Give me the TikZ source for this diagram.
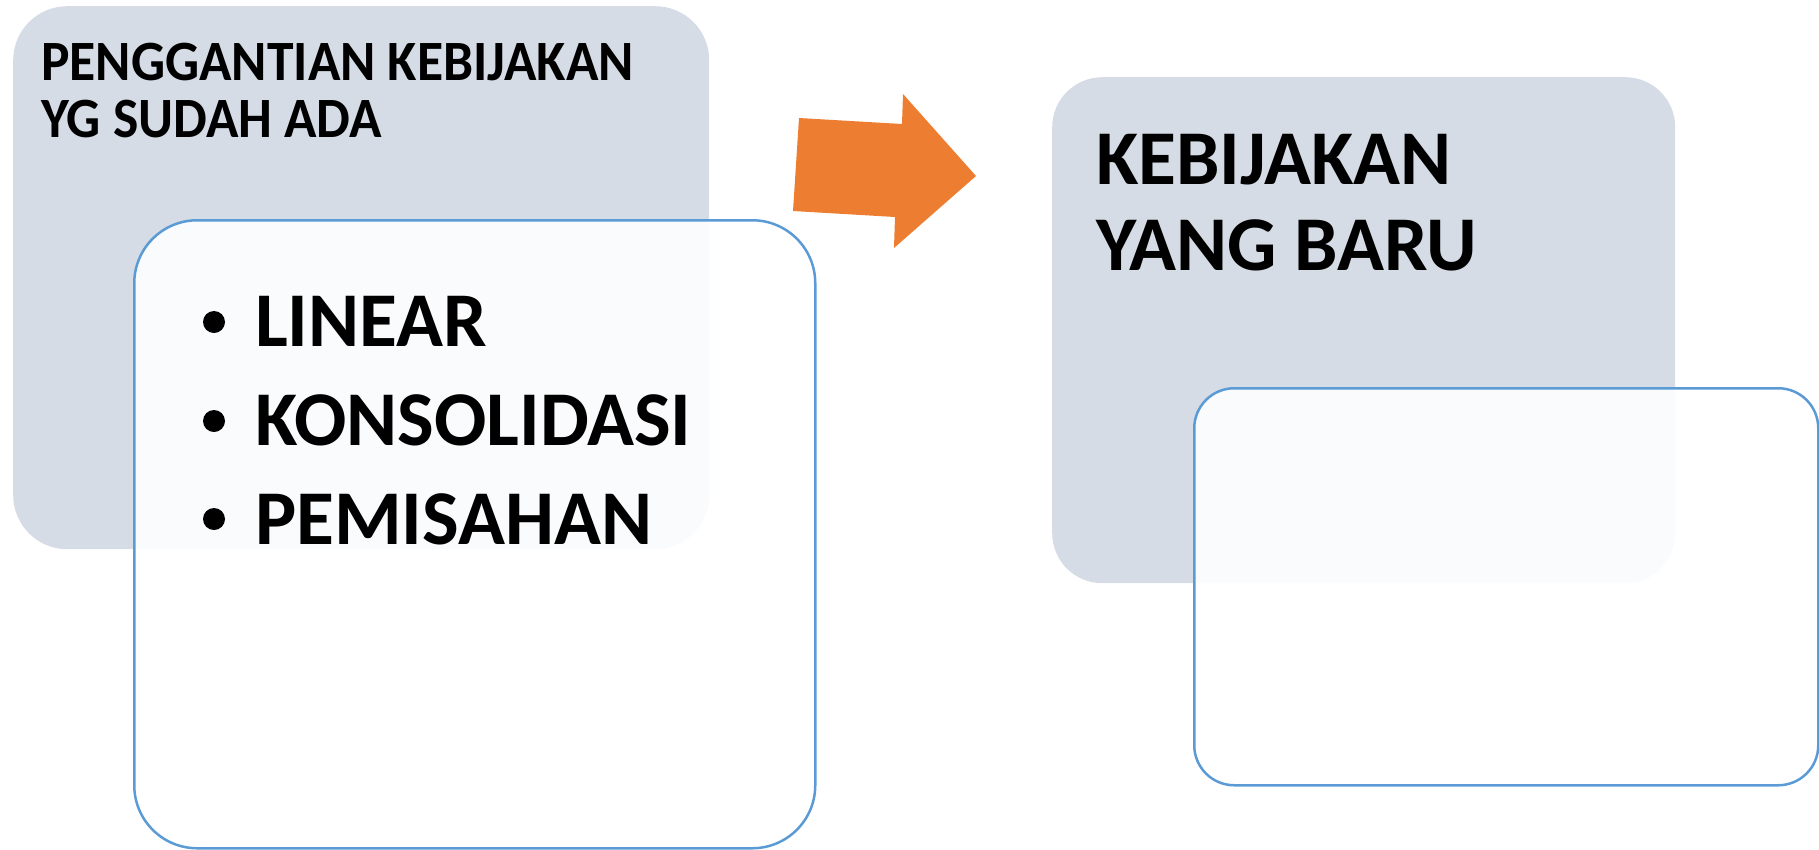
\documentclass[tikz,border=0pt]{standalone}
\usepackage{fontspec}
\setmainfont{Carlito}
\newfontfamily\narrowtitle{Carlito}[FakeStretch=0.94]
\definecolor{boxgrey}{RGB}{214,220,229}
\definecolor{lineblue}{RGB}{91,155,213}
\definecolor{arroworange}{RGB}{237,125,49}
\begin{document}
\begin{tikzpicture}[x=1pt,y=-1pt,
  greybox/.style={fill=boxgrey, draw=none, inner sep=0pt, anchor=north west},
  bluebox/.style={fill=white, fill opacity=0.9, draw=lineblue, draw opacity=1, line width=2.5pt, inner sep=0pt, anchor=north west},
  smalltitle/.style={anchor=base west, inner sep=0pt, font=\narrowtitle\fontsize{57}{68}\selectfont\bfseries},
  bigtext/.style={anchor=base west, inner sep=0pt, font=\fontsize{77.5}{90}\selectfont\bfseries},
  bulletdot/.style={circle, fill=black, inner sep=0pt, minimum size=22pt}]
\useasboundingbox (0,0) rectangle (1819,849);
% left group
\node[greybox, rounded corners=54pt, minimum width=696pt, minimum height=543pt] (g1) at (13,6) {};
\node[bluebox, rounded corners=63pt, minimum width=681pt, minimum height=628pt] (bl1) at (133,219) {};
\node[smalltitle] (t1) at (41,80) {PENGGANTIAN KEBIJAKAN};
\node[smalltitle] (t2) at (41,137) {YG SUDAH ADA};
\node[bulletdot] (d1) at (214,322) {};
\node[bulletdot] (d2) at (214,421) {};
\node[bulletdot] (d3) at (214,519) {};
\node[bigtext] (i1) at (255,346) {LINEAR};
\node[bigtext] (i2) at (255,445) {KONSOLIDASI};
\node[bigtext] (i3) at (255,544) {PEMISAHAN};
% arrow
\fill[arroworange] (799,118) -- (902,124) -- (903,94) -- (976,176) -- (894,248) -- (895,217) -- (793,211) -- cycle;
% right group
\node[greybox, rounded corners=50pt, minimum width=623pt, minimum height=506pt] (g2) at (1052,77) {};
\node[bluebox, rounded corners=40pt, minimum width=624pt, minimum height=397pt] (bl2) at (1193,387) {};
\node[bigtext] (k1) at (1096,184) {KEBIJAKAN};
\node[bigtext] (k2) at (1096,270) {YANG BARU};
\end{tikzpicture}
\end{document}
